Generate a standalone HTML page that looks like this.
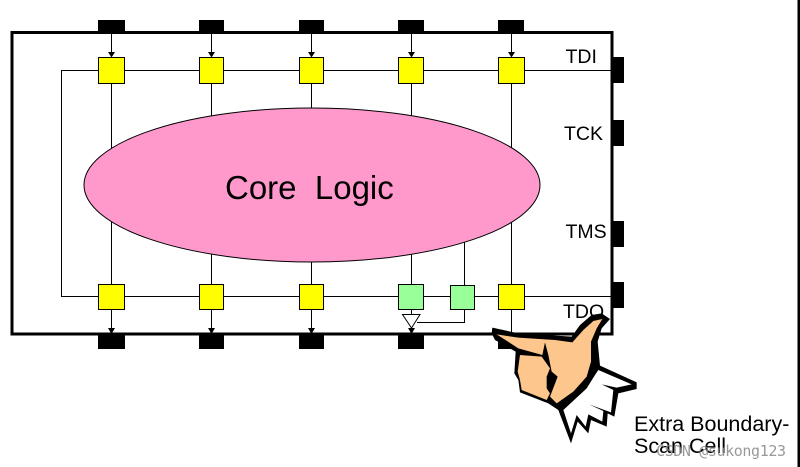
<!DOCTYPE html>
<html><head><meta charset="utf-8"><style>
html,body{margin:0;padding:0;background:#fff}
svg{display:block}
text{font-family:"Liberation Sans",sans-serif;fill:#000}
</style></head><body>
<svg width="800" height="467" viewBox="0 0 800 467" xmlns="http://www.w3.org/2000/svg">
<rect width="800" height="467" fill="#fff"/>
<rect x="797.5" y="0" width="2.5" height="467" fill="#000"/>
<!-- pads -->
<g fill="#000">
<rect x="98" y="20" width="27" height="12"/><rect x="199" y="20" width="25" height="12"/><rect x="299" y="20" width="25" height="12"/><rect x="398" y="20" width="26" height="12"/><rect x="498" y="20" width="26" height="12"/>
<rect x="98" y="335" width="27" height="14"/><rect x="199" y="335" width="25" height="14"/><rect x="299" y="335" width="25" height="14"/><rect x="398" y="335" width="26" height="14"/><rect x="498" y="335" width="26" height="14"/>
<rect x="612" y="57" width="12" height="26"/><rect x="612" y="120" width="12" height="26"/><rect x="612" y="221" width="12" height="26"/><rect x="612" y="282" width="12" height="26"/>
</g>
<rect x="12" y="32.5" width="600" height="301.5" fill="none" stroke="#000" stroke-width="3"/>
<!-- wiring -->
<g fill="none" stroke="#000" stroke-width="1">
<path d="M111.500 32V52M211.500 32V52M311.500 32V52M411.500 32V52M511.500 32V52"/>
<path d="M612 70.500H61.500V296.500H612"/>
<path d="M111.500 83V284M211.500 83V284M311.500 83V284M411.500 83V284M511.500 83V284M464.500 240V285"/>
<path d="M111.500 309V329M211.500 309V329M311.500 309V329M411.500 309V315M511.500 309V332"/>
<path d="M464.500 309V322.500H417"/>
</g>
<g fill="#000">
<path d="M108 52H115L111.500 57.500ZM208 52H215L211.500 57.500ZM308 52H315L311.500 57.500ZM408 52H415L411.500 57.500ZM508 52H515L511.500 57.500Z"/>
<path d="M108 328H115L111.500 334ZM208 328H215L211.500 334ZM308 328H315L311.500 334ZM408 328H415L411.500 334Z"/>
</g>
<ellipse cx="312" cy="185" rx="228" ry="77" fill="#ff99cc" stroke="#000" stroke-width="1"/>
<!-- cells -->
<g fill="#ffff00" stroke="#000" stroke-width="1">
<rect x="98.500" y="57.500" width="26" height="26"/><rect x="199.500" y="57.500" width="24" height="26"/><rect x="299.500" y="57.500" width="24" height="26"/><rect x="398.500" y="57.500" width="25" height="26"/><rect x="498.500" y="57.500" width="26" height="26"/>
<rect x="98.500" y="284.500" width="26" height="25"/><rect x="199.500" y="284.500" width="24" height="25"/><rect x="299.500" y="284.500" width="24" height="25"/><rect x="498.500" y="284.500" width="26" height="25"/>
</g>
<g fill="#99ff99" stroke="#000" stroke-width="1">
<rect x="398.500" y="284.500" width="25" height="25"/><rect x="450.500" y="285.500" width="24" height="24"/>
</g>
<path d="M402.500 314.500H420L411.500 328Z" fill="#fff" stroke="#000" stroke-width="1"/>
<!-- labels -->
<text x="565.500" y="63" font-size="19.500">TDI</text>
<text x="564" y="140" font-size="19.500">TCK</text>
<text x="565.500" y="238" font-size="19.500">TMS</text>
<text x="563" y="318" font-size="19.500">TDO</text>
<text x="225" y="199" font-size="33" xml:space="preserve">Core  Logic</text>
<!-- hand, drawn in 3x coordinates -->
<g transform="translate(485 305) scale(.33333)">
<path d="M22 68L100 85L210 92L260 95L285 60L320 30L350 25L375 42L350 70L338 110L345 182L455 232L455 252L400 265L388 335L368 325L365 365L318 345L310 385L278 350L258 415L220 315L190 295L105 262L100 225L88 205L92 140L30 105L20 85Z" fill="#000"/>
<path d="M340 195L440 238L395 248L350 238L385 255L378 322L312 298L355 318L352 350L310 328L302 365L275 330L258 385L235 315L305 250L330 210Z" fill="#fff"/>
<path d="M35 88L100 98L210 105L262 112L295 75L325 48L352 42L335 70L318 110L318 170L305 215L265 260L215 295L195 275L218 215L200 200L190 150L180 112L172 150L100 130Z" fill="#fdc68c"/>
<path d="M105 150L170 155L195 190L185 215L185 250L195 265L185 285L110 255L105 225L98 200Z" fill="#fdc68c"/>
</g>
<text x="634" y="431" font-size="21.500">Extra Boundary-</text>
<text x="634" y="453" font-size="21.500">Scan Cell</text>
<text x="656" y="456" font-size="15" style="font-family:'DejaVu Sans Mono','Liberation Mono',monospace;fill:#888;opacity:.85" textLength="130">CSDN @sukong123</text>
</svg>
</body></html>
